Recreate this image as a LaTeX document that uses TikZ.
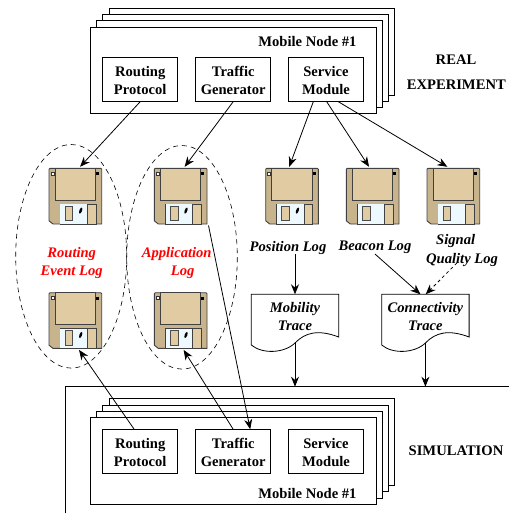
\documentclass[tikz,border=0pt]{standalone}
\usepackage{fontspec}
\setmainfont{Liberation Serif}
\usepackage{xcolor}
\usetikzlibrary{arrows.meta}
\definecolor{diskbody}{RGB}{200,180,140}
\definecolor{disklabel}{RGB}{224,203,163}
\definecolor{diskwhite}{RGB}{238,248,255}
\newcommand{\lblfont}{\fontsize{14.6}{18}\selectfont\bfseries}
\newcommand{\modtop}{\rule{0pt}{13pt}}
\tikzset{
  arrow/.style={-{Stealth[length=10pt,width=8pt]},line width=0.8pt},
  framebox/.style={draw,fill=white,line width=0.8pt},
  modulebox/.style={draw,fill=white,line width=0.8pt,minimum width=75pt,minimum height=43.6pt,inner sep=0pt,align=center},
  plaintext/.style={inner sep=0pt,font=\lblfont},
  logtext/.style={inner sep=0pt,align=center,font=\lblfont\itshape},
  redtext/.style={logtext,text=red},
  logring/.style={draw,dashed,line width=0.6pt,dash pattern=on 5pt off 4pt},
  diskbox/.style={inner sep=0pt,outer sep=1.5pt,minimum width=52.7pt,minimum height=55.7pt},
  floppy/.pic={
    \node[diskbox] (box) at (26.35,27.85) {};
    \draw[fill=diskbody,draw=black!75,line width=0.9pt] (1,0) -- (51.7,0) -- (52.7,1) -- (52.7,55.7) -- (4,55.7) -- (0,52.5) -- (0,1) -- cycle;
    \draw[fill=disklabel,draw=black!75,line width=0.8pt] (6,0) -- (46.3,0) -- (46.3,32) -- (6,32) -- cycle;
    \draw[fill=disklabel,draw=black!75,line width=0.7pt] (11,35.7) rectangle (47,55.7);
    \fill[diskwhite] (11.4,36.1) rectangle (38.3,55.7);
    \draw[black!75,line width=0.7pt] (38.3,35.7) -- (38.3,55.7);
    \draw[fill=disklabel,draw=black!70,line width=0.8pt] (16,37.7) rectangle (23.7,52.3);
    \fill[black] (48.3,5.3) +(-1.5,-1.5) rectangle +(1.5,1.5);
    \ifnum#1=1
      \draw[fill=white,draw=black!80,line width=0.6pt] (3.4,5.3) +(-1.5,-1.5) rectangle +(1.5,1.5);
      \fill[black,rotate around={-20:(31.7,42.3)}] (31.7,42.3) ellipse (1.3 and 3.2);
    \fi
  },
  tracedoc/.pic={
    \node[inner sep=0pt,outer sep=0pt,minimum width=87.4pt,minimum height=49pt] (box) at (43.7,24.5) {};
    \draw[fill=white,line width=0.8pt] (0,0) -- (87.4,0) -- (87.4,42.7) .. controls (67,35) and (54,38) .. (43.7,48.7) .. controls (33,59) and (11,60) .. (0,50.7) -- cycle;
    \node[logtext] (text) at (43.7,22.7) {#1};
  }
}
\begin{document}
\begin{tikzpicture}[x=1pt,y=-1pt]
  \useasboundingbox (0,0) rectangle (509,514);
  % real experiment
  \foreach \l/\t/\r/\b in {109/8.3/394.3/95.7,102.7/14.3/388.3/101,96.3/20.7/382.3/107.3,90.3/27/376/113.7}
    \draw[framebox] (\l,\t) rectangle (\r,\b);
  \node[plaintext,anchor=east] (nodeA) at (356.7,42) {Mobile Node \#1};
  \node[modulebox,font=\lblfont] (routingA) at (140.2,79.5) {\modtop Routing\\Protocol};
  \node[modulebox,font=\lblfont] (trafficA) at (233.2,79.5) {\modtop Traffic\\Generator};
  \node[modulebox,font=\lblfont] (serviceA) at (326,79.5) {\modtop Service\\Module};
  \node[plaintext] (real) at (456,60) {REAL};
  \node[plaintext] (experiment) at (456.3,85) {EXPERIMENT};
  % log disks
  \draw[logring] (71.2,256.3) ellipse (55.5 and 111.8);
  \draw[logring] (182,257.3) ellipse (55.3 and 111.8);
  \pic (diskA) at (49,168.3) {floppy=1};
  \pic (diskB) at (154.3,168.3) {floppy=1};
  \pic (diskC) at (49,292.7) {floppy=1};
  \pic (diskD) at (154.3,292.7) {floppy=1};
  \pic (diskE) at (265.7,168.3) {floppy=1};
  \pic (diskF) at (346.3,168.3) {floppy=0};
  \pic (diskG) at (427,168.3) {floppy=0};
  \node[redtext] (routinglog) at (71.7,262.5) {Routing\\Event Log};
  \node[redtext,anchor=base] (applog) at (176.7,257.5) {Application};
  \node[redtext,anchor=base] (applog2) at (182.7,275.5) {Log};
  \node[logtext] (poslog) at (288,247.5) {Position Log};
  \node[logtext] (beaconlog) at (375,247.5) {Beacon Log};
  \node[logtext,anchor=base] (signallog) at (455.7,244) {Signal};
  \node[logtext,anchor=base] (qualitylog) at (462,263.5) {Quality Log};
  % traces
  \pic (mob) at (251.3,294.3) {tracedoc={Mobility\\Trace}};
  \pic (con) at (381.7,294.3) {tracedoc={Connectivity\\Trace}};
  % simulation
  \coordinate (simtop) at (509,386.7);
  \coordinate (simleft) at (65.7,513.3);
  \draw[line width=0.8pt] (simleft) |- (simtop);
  \foreach \l/\t/\r/\b in {109/398.7/394.3/485.7,102.7/405/388.3/491.7,96.3/411.3/382.3/498.3,90.3/417.3/376/504}
    \draw[framebox] (\l,\t) rectangle (\r,\b);
  \node[plaintext,anchor=east] (nodeB) at (356.7,494) {Mobile Node \#1};
  \node[modulebox,font=\lblfont] (routingB) at (140.2,451.5) {\modtop Routing\\Protocol};
  \node[modulebox,font=\lblfont] (trafficB) at (233.2,451.5) {\modtop Traffic\\Generator};
  \node[modulebox,font=\lblfont] (serviceB) at (326,451.5) {\modtop Service\\Module};
  \node[plaintext] (simulation) at (456,451) {SIMULATION};
  % arrows
  \draw[arrow] (routingA.south) -- ([xshift=4.7pt]diskAbox.north);
  \draw[arrow] (trafficA.south) -- ([xshift=4pt]diskBbox.north);
  \draw[arrow] ([xshift=-12.7pt]serviceA.south) -- ([xshift=-2.8pt]diskEbox.north);
  \draw[arrow] ([xshift=0.7pt]serviceA.south) -- ([xshift=-3.6pt]diskFbox.north);
  \draw[arrow] ([xshift=12.3pt]serviceA.south) -- ([xshift=-6pt]diskGbox.north);
  \draw[arrow] (poslog.south -| mobbox.north) -- (mobbox.north);
  \draw[arrow] (beaconlog.south) -- ([xshift=-5pt]conbox.north);
  \draw[arrow,dashed] ([xshift=-5pt,yshift=4pt]qualitylog.south) -- ([xshift=0.3pt]conbox.north);
  \draw[arrow] (mobbox.south) -- (mobbox.south |- simtop);
  \draw[arrow] (conbox.south) -- (conbox.south |- simtop);
  \draw[arrow] (diskBbox.south east) -- ([xshift=17pt]trafficB.north);
  \draw[arrow] ([xshift=-6pt]routingB.north) -- ([xshift=3.7pt]diskCbox.south);
  \draw[arrow] (trafficB.north) -- ([xshift=3pt]diskDbox.south);
\end{tikzpicture}
\end{document}
